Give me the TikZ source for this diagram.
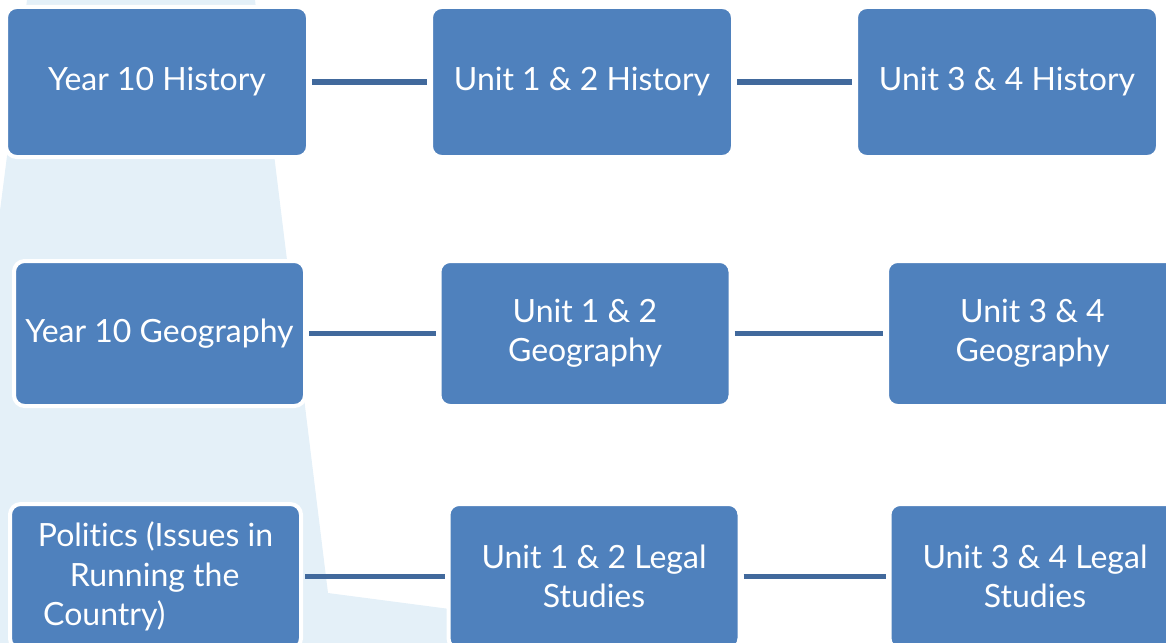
\documentclass[tikz,border=0pt]{standalone}
\usepackage{fontspec}
\setmainfont{Lato}[Ligatures=CommonOff]
\definecolor{boxblue}{HTML}{4F81BD}
\definecolor{linkblue}{HTML}{41699C}
\definecolor{paleblue}{HTML}{E4F0F8}
\tikzset{
  course/.style={draw=white, line width=3pt, fill=boxblue, rounded corners=8pt,
    minimum width=#1, minimum height=108.75pt, inner sep=0pt,
    text=white, align=center, font=\fontsize{24}{29.5}\selectfont},
  course/.default=218.25pt,
  tall/.style={minimum height=112.5pt},
  link/.style={draw=linkblue, line width=3.75pt, shorten <=1.5pt, shorten >=1.5pt}
}
\begin{document}
\begin{tikzpicture}[x=0.75pt,y=-0.75pt]
\useasboundingbox (0,0) rectangle (1166,642);
\clip (0,0) rectangle (1166,642);
% pale arrow behind the three pathways
\fill[paleblue] (27,0) -- (255,0) -- (328,593) -- (800,655) -- (800,720)
  -- (-300,720) -- (-300,620) -- (-49,593) -- cycle;

% row 1: history
\node[course=226.5pt, tall] (h1) at (157,82) {Year 10 History};
\node[course=226.5pt, tall] (h2) at (582,82) {Unit 1 \& 2 History};
\node[course=226.5pt, tall] (h3) at (1007,82) {Unit 3 \& 4 History};
% row 2: geography
\node[course] (g1) at (159.5,333.5) {Year 10 Geography};
\node[course] (g2) at (585,333.5) {Unit 1 \& 2\\Geography};
\node[course] (g3) at (1032.5,333.5) {Unit 3 \& 4\\Geography};
% row 3: politics and legal studies
\node[course, align=left] (p1) at (155.5,576.5)
  {Politics (Issues in\\\hspace*{24pt}Running the\\\hspace*{4pt}Country)};
\node[course] (p2) at (594,576.5) {Unit 1 \& 2 Legal\\Studies};
\node[course] (p3) at (1035,576.5) {Unit 3 \& 4 Legal\\Studies};

\draw[link] (h1) -- (h2);
\draw[link] (h2) -- (h3);
\draw[link] (g1) -- (g2);
\draw[link] (g2) -- (g3);
\draw[link] (p1) -- (p2);
\draw[link] (p2) -- (p3);
\end{tikzpicture}
\end{document}
